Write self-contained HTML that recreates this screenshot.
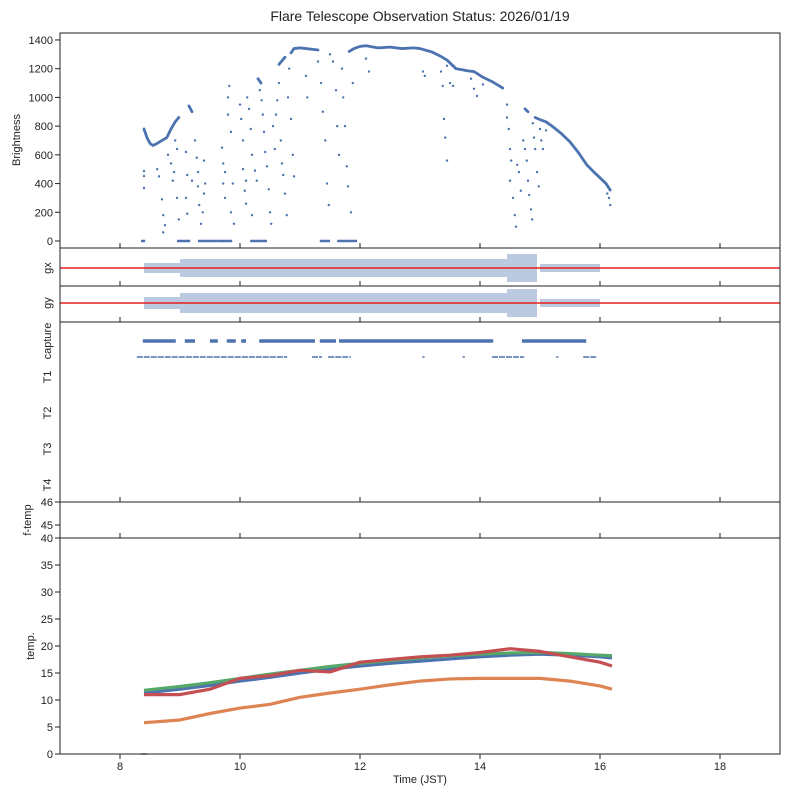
<!DOCTYPE html>
<html><head><meta charset="utf-8"><style>
body{margin:0;background:#fff}
svg text{font-family:"Liberation Sans",sans-serif;fill:#222}
</style></head><body>
<svg id="chart" width="789" height="798" xmlns="http://www.w3.org/2000/svg">
<rect width="789" height="798" fill="#fff"/>
<text x="420" y="21" font-size="14" text-anchor="middle">Flare Telescope Observation Status: 2026/01/19</text>
<g id="g"></g>
<text x="420" y="783" font-size="11" text-anchor="middle">Time (JST)</text>
</svg>
<script>
const xTicks=[8,10,12,14,16,18];
const bTicks=[0,200,400,600,800,1000,1200,1400];
const tTicks=[0,5,10,15,20,25,30,35,40];
const fTicks=[45,46];
const curveSegs=[
[[8.4,780],[8.45,720],[8.5,680],[8.55,665],[8.62,680],[8.7,700],[8.78,720],[8.85,780],[8.92,830],[8.98,860]],
[[9.15,940],[9.2,900]],
[[10.3,1130],[10.35,1100]],
[[10.65,1230],[10.75,1280]],
[[10.85,1310],[10.9,1340],[11.0,1345],[11.1,1340],[11.2,1335],[11.3,1330]],
[[11.82,1320],[11.9,1340],[12.0,1355],[12.1,1360],[12.3,1345],[12.5,1350],[12.7,1340],[12.9,1345],[13.0,1340],[13.2,1316],[13.35,1285],[13.45,1260],[13.6,1200],[13.8,1185],[13.9,1180],[14.05,1140],[14.2,1110],[14.38,1065]],
[[14.75,920],[14.8,900]],
[[14.92,860],[15.0,845],[15.1,830],[15.22,794],[15.35,750],[15.5,690],[15.65,610],[15.78,530],[15.9,480],[16.0,440],[16.1,400],[16.17,355]]
];
const scatterPts=[[8.4,487],[8.4,452],[8.4,369],[8.62,500],[8.65,450],[8.7,290],[8.72,180],[8.75,110],[8.72,60],[8.8,600],[8.85,540],[8.9,480],[8.88,420],[8.92,700],[8.95,640],[8.95,300],[8.98,150],
[9.1,620],[9.12,460],[9.1,300],[9.12,190],[9.2,420],[9.25,700],[9.28,580],[9.3,480],[9.3,380],[9.32,250],[9.35,120],[9.4,560],[9.42,400],[9.4,330],[9.38,200],
[9.7,650],[9.72,540],[9.75,480],[9.72,400],[9.75,300],[9.8,1000],[9.82,1080],[9.8,880],[9.85,760],[9.88,400],[9.85,200],[9.9,120],
[10.0,950],[10.02,850],[10.05,700],[10.05,500],[10.08,350],[10.1,260],[10.1,420],[10.12,1000],[10.15,920],[10.18,780],[10.2,600],[10.2,180],[10.25,490],[10.28,420],
[10.33,1050],[10.36,980],[10.38,880],[10.4,760],[10.42,620],[10.45,520],[10.48,360],[10.5,200],[10.52,120],[10.55,800],[10.58,640],[10.6,880],[10.62,980],[10.65,1100],[10.68,700],[10.7,540],[10.72,460],[10.75,330],[10.78,180],[10.8,1000],[10.82,1200],[10.85,850],[10.88,600],[10.9,450],
[11.1,1150],[11.12,1000],[11.3,1250],[11.35,1100],[11.38,900],[11.42,700],[11.45,400],[11.48,250],[11.5,1300],[11.55,1250],[11.6,1050],[11.62,800],[11.65,600],[11.7,1200],[11.72,1000],[11.75,800],[11.78,520],[11.8,380],[11.85,200],[11.88,1100],
[12.1,1270],[12.15,1180],
[13.05,1180],[13.08,1150],[13.35,1180],[13.38,1080],[13.4,850],[13.42,720],[13.45,560],[13.45,1220],[13.5,1100],[13.55,1080],
[13.85,1130],[13.9,1060],[13.95,1010],[14.05,1090],
[14.45,950],[14.45,860],[14.48,780],[14.5,640],[14.52,560],[14.5,420],[14.55,300],[14.58,180],[14.6,100],[14.62,530],[14.65,480],[14.68,350],[14.72,700],[14.75,640],[14.78,560],[14.8,420],[14.82,320],[14.85,220],[14.87,150],[14.88,820],[14.9,720],[14.92,640],[14.95,480],[14.98,380],[15.0,780],[15.02,700],[15.05,640],[15.1,770],
[16.15,300],[16.17,250],[16.12,330]];
const zeroSegs=[[8.35,8.42],[8.95,9.17],[9.3,9.63],[9.63,9.87],[10.17,10.45],[11.33,11.5],[11.62,11.95]];
const captureSegs=[[8.38,8.93],[9.08,9.25],[9.5,9.63],[9.78,9.93],[10.02,10.1],[10.32,11.25],[11.33,11.6],[11.65,14.22],[14.7,15.77]];
const t1Segs=[[8.28,10.77],[11.2,11.35],[11.47,11.83],[13.04,13.06],[13.71,13.73],[14.2,14.72],[15.27,15.29],[15.72,15.93]];
const gxBands=[[8.4,9.0,5],[9.0,14.45,9],[14.45,14.95,14],[15.0,16.0,4]];
const gyBands=[[8.4,9.0,6],[9.0,14.45,10],[14.45,14.95,14],[15.0,16.0,4]];
const tempTimes=[8.4,9,9.5,10,10.5,11,11.5,12,12.5,13,13.5,14,14.5,15,15.5,16,16.2];
const tempBlue=[11.3,12,12.7,13.5,14.2,15,15.7,16.3,16.8,17.2,17.6,18,18.3,18.5,18.3,18,17.8];
const tempGreen=[11.8,12.5,13.2,14,14.8,15.5,16.2,16.8,17.3,17.8,18.2,18.5,18.7,18.8,18.6,18.3,18.2];
const tempRed=[11,11,12,14,14.5,15.5,15.2,17,17.5,18,18.3,18.8,19.5,19,18,17,16.3];
const tempOrange=[5.8,6.3,7.5,8.5,9.2,10.5,11.3,12,12.8,13.5,13.9,14,14,14,13.5,12.6,12];

const NS="http://www.w3.org/2000/svg",G=document.getElementById('g');
const X=t=>60+(t-7)*60;
const YB=v=>241-v*0.1436;
const YT=v=>754-v*5.4;
const BLUE="#4c72b0";
function el(tag,attrs,parent){const e=document.createElementNS(NS,tag);for(const k in attrs)e.setAttribute(k,attrs[k]);(parent||G).appendChild(e);return e;}
function txt(s,x,y,attrs){const e=el('text',Object.assign({x:x,y:y,'font-size':11},attrs||{}));e.textContent=s;return e;}
const panels=[[33,248],[248,286],[286,322],[322,502],[502,538],[538,754]];
zeroSegs.forEach(s=>{const l=el('line',{x1:X(s[0]),x2:X(s[1]),y1:YB(0),y2:YB(0),stroke:BLUE,'stroke-width':2.5});

});
scatterPts.forEach(p=>{const c=el('circle',{cx:X(p[0]),cy:YB(p[1]),r:1.2,fill:BLUE});

});
curveSegs.forEach(seg=>{const pl=el('polyline',{points:seg.map(p=>X(p[0])+','+YB(p[1])).join(' '),fill:'none',stroke:BLUE,'stroke-width':2.8,'stroke-linejoin':'round','stroke-linecap':'round'});

});
function bands(arr,cy,name){arr.forEach(b=>{const r=el('rect',{x:X(b[0]),y:cy-b[2],width:X(b[1])-X(b[0]),height:2*b[2],fill:BLUE,'fill-opacity':0.38});

});
const l=el('line',{x1:60,x2:780,y1:cy,y2:cy,stroke:'#e8201c','stroke-width':1.5});

}
bands(gxBands,268,'gx-band');bands(gyBands,303,'gy-band');
captureSegs.forEach(s=>{const l=el('line',{x1:X(s[0]),x2:X(s[1]),y1:341,y2:341,stroke:BLUE,'stroke-width':3.5});

});
t1Segs.forEach(s=>{const l=el('line',{x1:X(s[0]),x2:X(s[1])+1,y1:357,y2:357,stroke:BLUE,'stroke-width':1.5,'stroke-dasharray':'6 1'});

});
[[tempBlue,BLUE,'temp-blue'],[tempGreen,'#55a868','temp-green'],[tempOrange,'#dd8452','temp-orange'],[tempRed,'#c44e52','temp-red']].forEach(s=>{
const pl=el('polyline',{points:tempTimes.map((t,i)=>X(t)+','+YT(s[0][i])).join(' '),fill:'none',stroke:s[1],'stroke-width':3.2,'stroke-linejoin':'round'});

});
el('line',{x1:X(8.35),x2:X(8.45),y1:YT(0),y2:YT(0),stroke:BLUE,'stroke-width':1.5});
panels.forEach((p,i)=>{const r=el('rect',{x:60,y:p[0],width:720,height:p[1]-p[0],fill:'none',stroke:'#222','stroke-width':1});


if(i<5)xTicks.forEach(t=>el('line',{x1:X(t),x2:X(t),y1:p[1],y2:p[1]-5,stroke:'#222'}));});
xTicks.forEach(t=>{el('line',{x1:X(t),x2:X(t),y1:754,y2:759,stroke:'#222'});
const e=txt(String(t),X(t),770,{'text-anchor':'middle'});

});
bTicks.forEach(v=>{el('line',{x1:55,x2:60,y1:YB(v),y2:YB(v),stroke:'#222'});
const e=txt(String(v),53,YB(v)+4,{'text-anchor':'end'});

});
tTicks.forEach(v=>{el('line',{x1:55,x2:60,y1:YT(v),y2:YT(v),stroke:'#222'});
const e=txt(String(v),53,YT(v)+4,{'text-anchor':'end'});

});
fTicks.forEach(v=>{const y=502+(46-v)*23;el('line',{x1:55,x2:60,y1:y,y2:y,stroke:'#222'});
const e=txt(String(v),53,y+4,{'text-anchor':'end'});

});
function ylab(s,x,y,name){const e=txt(s,x,y,{'text-anchor':'middle',transform:`rotate(-90 ${x} ${y})`});

}
ylab('Brightness',20,140,'brightness-axis-title');
ylab('gx',51,268,'gx-axis-title');
ylab('gy',51,303,'gy-axis-title');
ylab('capture',51,341,'capture-label');
ylab('T1',51,377,'t1-label');
ylab('T2',51,413,'t2-label');
ylab('T3',51,449,'t3-label');
ylab('T4',51,485,'t4-label');
ylab('f-temp',31,520,'ftemp-axis-title');
ylab('temp.',34,646,'temp-axis-title');
</script>
</body></html>
